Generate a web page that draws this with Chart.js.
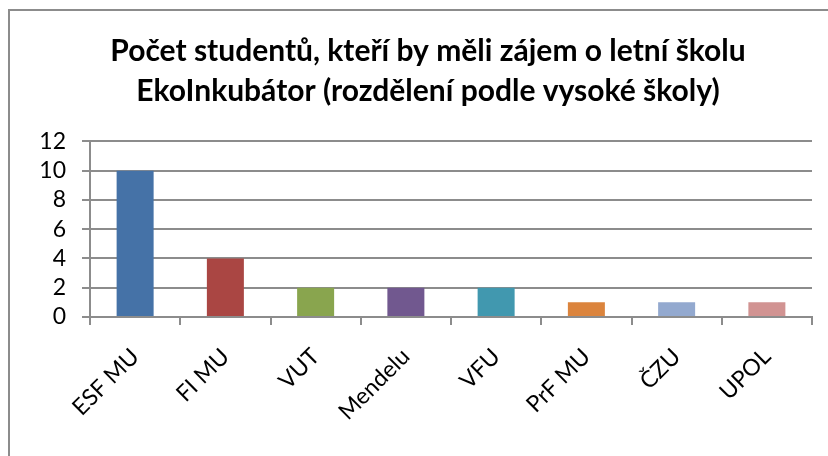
<!DOCTYPE html>
<html>
<head>
<meta charset="utf-8">
<script src="https://cdn.jsdelivr.net/npm/chart.js@4/dist/chart.umd.min.js"></script>
<style>
  html, body { margin: 0; padding: 0; background: #fff; overflow: hidden; }
  #frame {
    position: absolute; left: 8px; top: 9px; width: 900px; height: 500px;
    border-left: 2px solid #8c8c8c; border-top: 2px solid #8c8c8c;
  }
  #wrap { position: absolute; left: 0; top: 0; width: 846px; height: 456px; }
</style>
</head>
<body>
<div id="frame"></div>
<div id="wrap"><canvas id="chart"></canvas></div>
<script>
const schools = ["ESF MU", "FI MU", "VUT", "Mendelu", "VFU", "PrF MU", "ČZU", "UPOL"];
const students = [10, 4, 2, 2, 2, 1, 1, 1];
const barColors = ["#4572A7", "#AA4643", "#89A54E", "#71588F", "#4198AF", "#DB843D", "#93A9CF", "#D19392"];
const titleLines = ["Počet studentů, kteří by měli zájem o letní školu", "EkoInkubátor (rozdělení podle vysoké školy)"];

const gray = "#8c8c8c";
const font = "Lato, 'Open Sans', sans-serif";

new Chart(document.getElementById("chart"), {
    type: "bar",
    data: {
        labels: schools,
        datasets: [{
            data: students,
            backgroundColor: barColors,
            barPercentage: 0.41,
            categoryPercentage: 1
        }]
    },
    options: {
        responsive: true,
        maintainAspectRatio: false,
        animation: false,
        layout: { padding: { left: 10, right: 0, top: 10, bottom: 0 } },
        plugins: {
            legend: { display: false },
            tooltip: { enabled: false },
            title: {
                display: true,
                text: titleLines,
                color: "#000",
                font: { family: font, size: 30, weight: "bold", lineHeight: 1.34 },
                padding: { top: 21, bottom: 30 }
            }
        },
        scales: {
            x: {
                grid: { drawOnChartArea: false, color: gray, lineWidth: 2, tickLength: 8 },
                border: { color: gray, width: 2 },
                ticks: {
                    color: "#000", font: { family: font, size: 23 },
                    minRotation: 45, maxRotation: 45, padding: 18, autoSkip: false
                },
                afterFit: s => { s.height = 139; }
            },
            y: {
                min: 0, max: 12,
                grid: { color: gray, lineWidth: 2, tickLength: 8 },
                border: { color: gray, width: 2 },
                ticks: { stepSize: 2, autoSkip: false, color: "#000", font: { family: font, size: 23 }, padding: 16 },
                afterFit: s => { s.width = 80; }
            },
            // empty spacer on the right so the plot ends where the reference does
            spacer: {
                position: "right",
                grid: { display: false },
                border: { display: false },
                ticks: { display: false },
                afterFit: s => { s.width = 34; }
            }
        }
    }
});
</script>
</body>
</html>
